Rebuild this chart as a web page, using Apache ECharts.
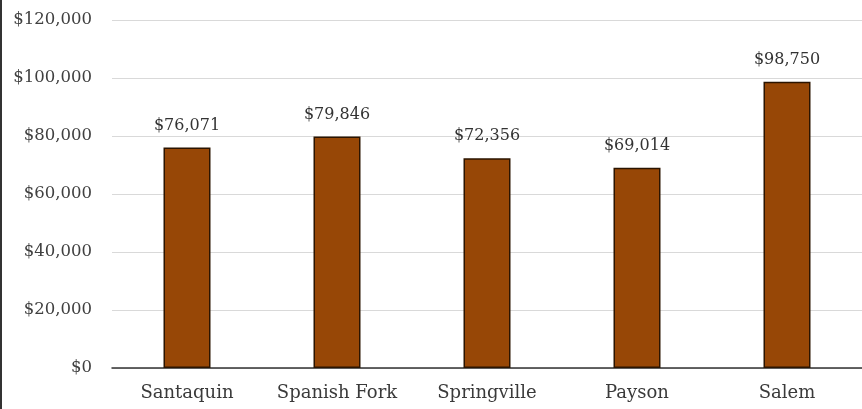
<!DOCTYPE html>
<html><head><meta charset="utf-8">
<script src="https://cdn.jsdelivr.net/npm/echarts@6/dist/echarts.min.js"></script>
<style>html,body{margin:0;padding:0;background:#fff}#c{width:862px;height:409px}</style>
</head><body><div id="c"></div>
<script>
var categories = ["Santaquin", "Spanish Fork", "Springville", "Payson", "Salem"];
var values = [76071, 79846, 72356, 69014, 98750];
var yTicks = [0, 20000, 40000, 60000, 80000, 100000, 120000];

function money(v){ return '$' + Math.round(v).toLocaleString('en-US'); }
var FONT = 'DejaVu Serif';
var chart = echarts.init(document.getElementById('c'), null, {renderer:'canvas'});
chart.setOption({
  animation: false,
  backgroundColor: '#fff',
  graphic: [{type:'rect', shape:{x:0,y:0,width:2,height:409}, style:{fill:'#333'}}],
  grid: {left:112, right:0, top:20, bottom:41},
  xAxis: {
    type:'category', data: categories,
    axisLine:{lineStyle:{color:'#333', width:1.5}},
    axisTick:{show:false},
    axisLabel:{color:'#3a3a3a', fontFamily:FONT, fontSize:18, margin:16, interval:0, hideOverlap:false}
  },
  yAxis: {
    type:'value', min:yTicks[0], max:yTicks[yTicks.length-1], interval:20000,
    axisLine:{show:false}, axisTick:{show:false},
    splitLine:{lineStyle:{color:'#d9d9d9', width:1}},
    axisLabel:{color:'#404040', fontFamily:FONT, fontSize:16.5, margin:20, formatter: money}
  },
  series: [{
    type:'bar', data: values, barWidth:47,
    itemStyle:{color:'#974706', borderColor:'#2b1400', borderWidth:1.5},
    label:{show:true, position:'top', distance:14, color:'#333', fontFamily:FONT, fontSize:16, formatter:function(p){return money(p.value);}}
  }]
});
</script></body></html>
